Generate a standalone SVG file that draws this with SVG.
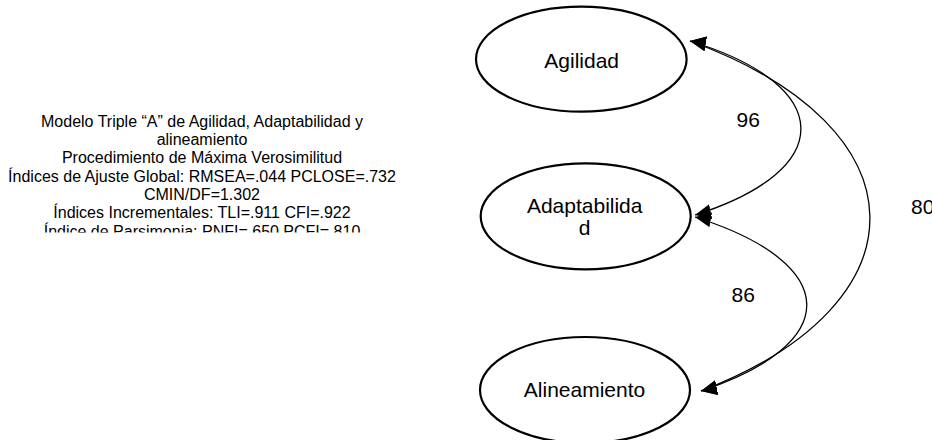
<svg xmlns="http://www.w3.org/2000/svg" width="932" height="440" viewBox="0 0 932 440">
<style>
.bg{fill:#fff}
.node{fill:#fff;stroke:#000;stroke-width:2.2}
.lbl{font-family:"Liberation Sans",Arial,sans-serif;font-size:21px;fill:#000;text-anchor:middle}
.num{font-family:"Liberation Sans",Arial,sans-serif;font-size:21px;fill:#000}
.info{font-family:"Liberation Sans",Arial,sans-serif;font-size:16px;fill:#000;text-anchor:middle}
.cov{fill:none;stroke:#000;stroke-width:1.3}
</style>
<defs>
<marker id="ahUp" viewBox="0 0 16 15" refX="16" refY="7.5" markerWidth="16" markerHeight="15" markerUnits="userSpaceOnUse" orient="190">
<path d="M0,0 L16,7.5 L0,15 z" fill="#000"/>
</marker>
<marker id="ahDown" viewBox="0 0 16 15" refX="16" refY="7.5" markerWidth="16" markerHeight="15" markerUnits="userSpaceOnUse" orient="168">
<path d="M0,0 L16,7.5 L0,15 z" fill="#000"/>
</marker>
<clipPath id="infoclip"><rect x="0" y="100" width="460" height="132.5"/></clipPath>
</defs>
<rect class="bg" x="0" y="0" width="932" height="440"/>
<g id="info" clip-path="url(#infoclip)">
<text class="info" x="202" y="126.7">Modelo Triple “A” de Agilidad, Adaptabilidad y</text>
<text class="info" x="202" y="145">alineamiento</text>
<text class="info" x="202" y="163.4">Procedimiento de Máxima Verosimilitud</text>
<text class="info" x="202" y="181.7">Índices de Ajuste Global: RMSEA=.044 PCLOSE=.732</text>
<text class="info" x="202" y="200">CMIN/DF=1.302</text>
<text class="info" x="202" y="218.4">Índices Incrementales: TLI=.911 CFI=.922</text>
<text class="info" x="202" y="236.7">Índice de Parsimonia: PNFI=.650 PCFI=.810</text>
</g>
<g id="connectors">
<path class="cov" d="M690,41 C837,86 837,170 695,215" marker-start="url(#ahUp)" marker-end="url(#ahDown)"/>
<path class="cov" d="M695,217 C843,264 843,344 701,391" marker-start="url(#ahUp)" marker-end="url(#ahDown)"/>
<path class="cov" d="M690,41 C928,128 928,304 701,391" marker-start="url(#ahUp)" marker-end="url(#ahDown)"/>
<text class="num" x="748.3" y="126.7" text-anchor="middle">96</text>
<text class="num" x="743.3" y="302.3" text-anchor="middle">86</text>
<text class="num" x="911" y="214">80</text>
</g>
<g id="agilidad">
<ellipse class="node" cx="581.3" cy="59.2" rx="105.3" ry="52.5"/>
<text class="lbl" x="581.7" y="68">Agilidad</text>
</g>
<g id="adaptabilidad">
<ellipse class="node" cx="585.7" cy="216.3" rx="105" ry="53"/>
<text class="lbl" x="584.7" y="212.7">Adaptabilida</text>
<text class="lbl" x="584.7" y="235">d</text>
</g>
<g id="alineamiento">
<ellipse class="node" cx="585" cy="390" rx="105" ry="53"/>
<text class="lbl" x="584.5" y="396.7">Alineamiento</text>
</g>
</svg>
